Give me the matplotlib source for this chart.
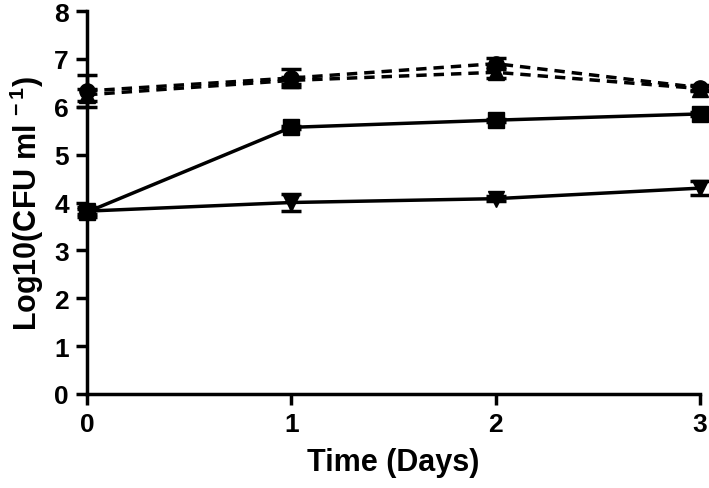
import numpy as np
import matplotlib
matplotlib.use('Agg')
import matplotlib.pyplot as plt

plt.rcParams['font.family'] = ['Liberation Sans', 'DejaVu Sans']
plt.rcParams['font.weight'] = 'bold'
plt.rcParams['mathtext.fontset'] = 'custom'
plt.rcParams['mathtext.rm'] = 'Liberation Sans:bold'
plt.rcParams['mathtext.bf'] = 'Liberation Sans:bold'

days = [0, 1, 2, 3]

# dashed series
circle = [6.33, 6.60, 6.90, 6.40]
circle_err = [0.33, 0.18, 0.12, 0.05]
tri_up = [6.25, 6.55, 6.72, 6.38]
tri_up_err = [0.12, 0.08, 0.12, 0.05]

# solid series
square = [3.80, 5.57, 5.72, 5.85]
square_err = [0.1, 0.03, 0.03, 0.05]
tri_down = [3.82, 4.00, 4.08, 4.30]
tri_down_err = [0.05, 0.18, 0.05, 0.15]

fig = plt.figure(figsize=(7.09, 4.89), dpi=100)
ax = fig.add_axes([87/709, 1-395/489, (700-87)/709, (395-12)/489])

kw = dict(color='black', lw=2.5, capsize=7, capthick=2.5, elinewidth=2.5,
          markersize=11, clip_on=False)
ax.errorbar(days, tri_up, yerr=tri_up_err, marker='^', ls=(0, (3, 2)), **kw)
ax.errorbar(days, circle, yerr=circle_err, marker='o', ls=(0, (3, 2)), **kw)
ax.errorbar(days, tri_down, yerr=tri_down_err, marker='v', ls='-', **kw)
ax.errorbar(days, square, yerr=square_err, marker='s', ls='-', **kw)

ax.set_xlim(0, 3)
ax.set_ylim(0, 8)
ax.set_xticks(days)
ax.set_yticks(range(0, 9))
for s in ['top', 'right']:
    ax.spines[s].set_visible(False)
for s in ['left', 'bottom']:
    ax.spines[s].set_linewidth(2.5)
ax.tick_params(width=2.5, length=8, labelsize=19, pad=5)
for lab in ax.get_xticklabels() + ax.get_yticklabels():
    lab.set_fontweight('bold')

ax.set_xlabel('Time (Days)', fontsize=22, fontweight='bold', labelpad=8)
ax.set_ylabel('Log10(CFU ml $^{\\mathbf{-}\\,\\mathbf{1}}$)', fontsize=22, fontweight='bold', labelpad=6)

fig.savefig('out.png', dpi=100)
